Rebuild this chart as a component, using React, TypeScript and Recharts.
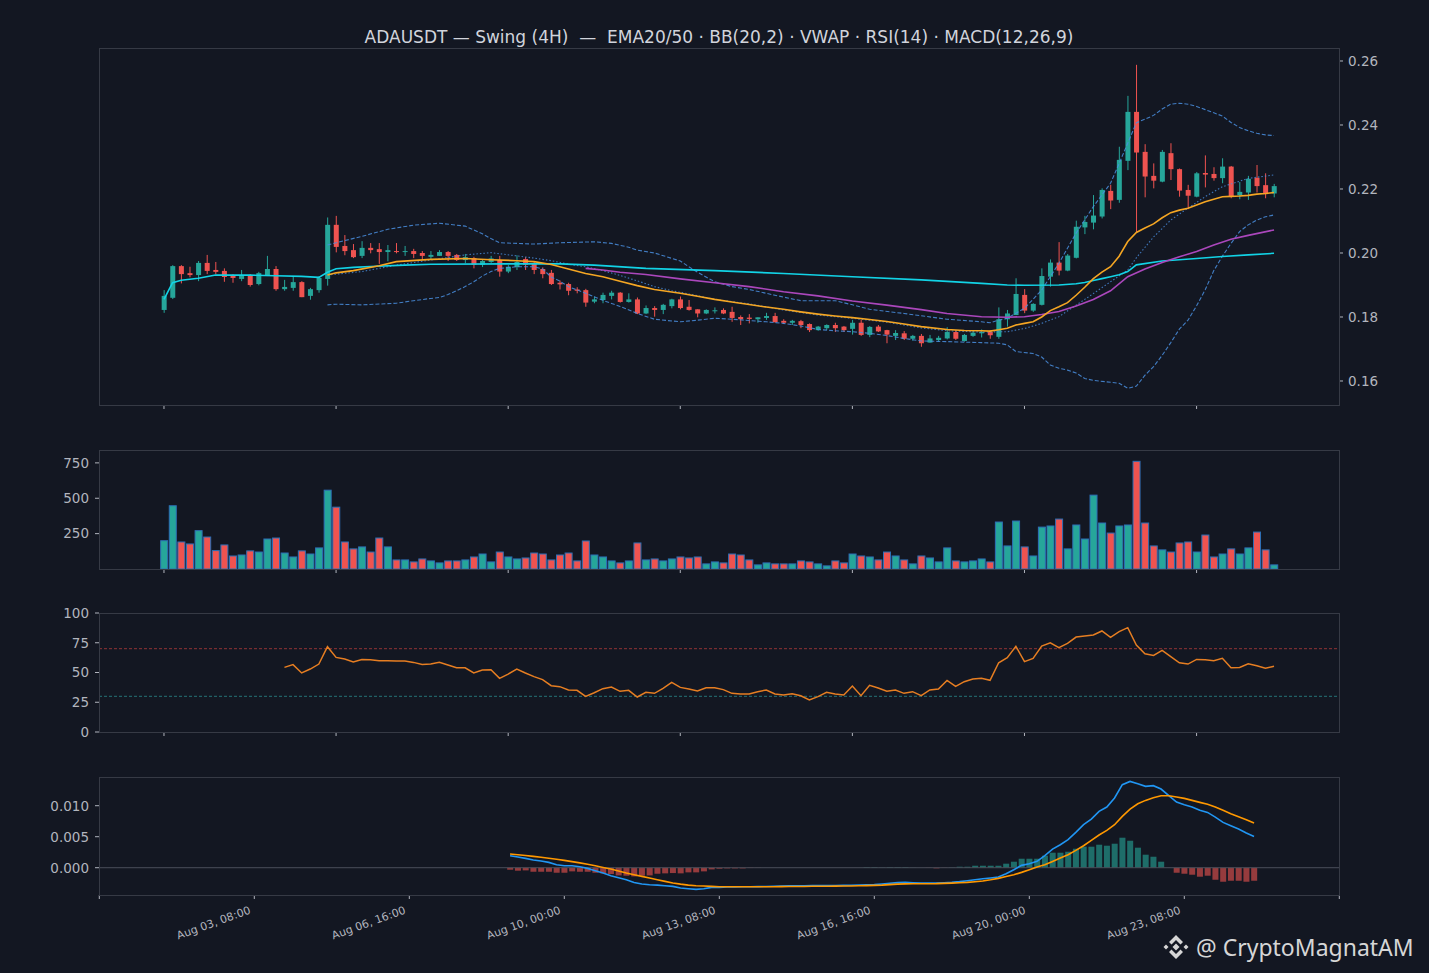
import React from 'react';
import { ComposedChart, Bar, Line, XAxis, YAxis, ReferenceLine } from 'recharts';

// ---------- DATA ----------
const opens = [
  0.1822, 0.1860, 0.1959, 0.1937, 0.1931, 0.1969, 0.1947, 0.1944, 0.1931, 0.1919,
  0.1931, 0.1903, 0.1931, 0.1950, 0.1887, 0.1891, 0.1909, 0.1866, 0.1884, 0.1919,
  0.2088, 0.2022, 0.2009, 0.1991, 0.2016, 0.2012, 0.2003, 0.2006, 0.2003, 0.2006,
  0.2000, 0.1988, 0.1991, 0.2003, 0.1994, 0.1978, 0.1984, 0.1963, 0.1972, 0.1978,
  0.1942, 0.1956, 0.1981, 0.1966, 0.1950, 0.1938, 0.1907, 0.1903, 0.1886, 0.1884,
  0.1848, 0.1853, 0.1866, 0.1876, 0.1847, 0.1855, 0.1811, 0.1828, 0.1822, 0.1834,
  0.1855, 0.1832, 0.1824, 0.1811, 0.1819, 0.1822, 0.1816, 0.1800, 0.1798, 0.1793,
  0.1797, 0.1803, 0.1788, 0.1782, 0.1787, 0.1778, 0.1759, 0.1765, 0.1775, 0.1770,
  0.1763, 0.1782, 0.1744, 0.1770, 0.1759, 0.1741, 0.1749, 0.1732, 0.1741, 0.1720,
  0.1728, 0.1733, 0.1753, 0.1725, 0.1741, 0.1749, 0.1753, 0.1738, 0.1793, 0.1806,
  0.1869, 0.1820, 0.1838, 0.1926, 0.1970, 0.1945, 0.1985, 0.2080, 0.2095, 0.2114,
  0.2194, 0.2166, 0.2288, 0.2441, 0.2316, 0.2241, 0.2223, 0.2312, 0.2262, 0.2197,
  0.2176, 0.2250, 0.2247, 0.2234, 0.2270, 0.2180, 0.2189, 0.2235, 0.2212, 0.2186,
];
const highs = [
  0.1884, 0.1962, 0.1962, 0.1957, 0.1975, 0.1994, 0.1972, 0.1952, 0.1934, 0.1947,
  0.1934, 0.1941, 0.1991, 0.1959, 0.1916, 0.1926, 0.1912, 0.1891, 0.1928, 0.2111,
  0.2116, 0.2056, 0.2028, 0.2037, 0.2031, 0.2031, 0.2025, 0.2031, 0.2022, 0.2013,
  0.2006, 0.2006, 0.2009, 0.2006, 0.1997, 0.1997, 0.1988, 0.1981, 0.1991, 0.1991,
  0.1962, 0.1993, 0.1987, 0.1972, 0.1955, 0.1947, 0.1914, 0.1907, 0.1893, 0.1888,
  0.1864, 0.1876, 0.1882, 0.1878, 0.1874, 0.1861, 0.1836, 0.1834, 0.1841, 0.1857,
  0.1864, 0.1853, 0.1824, 0.1824, 0.1830, 0.1827, 0.1832, 0.1805, 0.1809, 0.1799,
  0.1813, 0.1813, 0.1793, 0.1791, 0.1791, 0.1780, 0.1772, 0.1777, 0.1782, 0.1772,
  0.1791, 0.1791, 0.1772, 0.1775, 0.1760, 0.1759, 0.1756, 0.1744, 0.1747, 0.1744,
  0.1741, 0.1768, 0.1759, 0.1747, 0.1759, 0.1761, 0.1759, 0.1830, 0.1822, 0.1921,
  0.1887, 0.1843, 0.1952, 0.1980, 0.2034, 0.1997, 0.2101, 0.2116, 0.2181, 0.2202,
  0.2213, 0.2332, 0.2491, 0.2588, 0.2340, 0.2280, 0.2322, 0.2343, 0.2264, 0.2213,
  0.2253, 0.2305, 0.2268, 0.2296, 0.2272, 0.2222, 0.2241, 0.2275, 0.2249, 0.2216,
];
const lows = [
  0.1813, 0.1856, 0.1905, 0.1924, 0.1912, 0.1934, 0.1934, 0.1910, 0.1907, 0.1912,
  0.1895, 0.1899, 0.1928, 0.1882, 0.1882, 0.1882, 0.1862, 0.1854, 0.1876, 0.1898,
  0.2002, 0.1993, 0.1984, 0.1984, 0.1999, 0.1966, 0.1974, 0.1999, 0.1991, 0.1984,
  0.1981, 0.1981, 0.1991, 0.1975, 0.1975, 0.1968, 0.1952, 0.1956, 0.1969, 0.1926,
  0.1937, 0.1947, 0.1947, 0.1934, 0.1921, 0.1900, 0.1886, 0.1868, 0.1874, 0.1832,
  0.1843, 0.1843, 0.1855, 0.1845, 0.1845, 0.1809, 0.1809, 0.1801, 0.1809, 0.1827,
  0.1824, 0.1820, 0.1799, 0.1809, 0.1811, 0.1809, 0.1785, 0.1775, 0.1780, 0.1782,
  0.1791, 0.1782, 0.1778, 0.1775, 0.1765, 0.1753, 0.1757, 0.1759, 0.1753, 0.1753,
  0.1745, 0.1741, 0.1737, 0.1753, 0.1718, 0.1728, 0.1728, 0.1726, 0.1707, 0.1720,
  0.1723, 0.1730, 0.1728, 0.1723, 0.1738, 0.1736, 0.1732, 0.1732, 0.1770, 0.1806,
  0.1812, 0.1816, 0.1836, 0.1895, 0.1930, 0.1943, 0.1983, 0.2059, 0.2074, 0.2108,
  0.2137, 0.2157, 0.2259, 0.2064, 0.2174, 0.2202, 0.2221, 0.2228, 0.2176, 0.2137,
  0.2174, 0.2205, 0.2226, 0.2218, 0.2171, 0.2168, 0.2166, 0.2189, 0.2171, 0.2174,
];
const closes = [
  0.1866, 0.1959, 0.1934, 0.1931, 0.1969, 0.1944, 0.1941, 0.1925, 0.1922, 0.1928,
  0.1900, 0.1937, 0.1950, 0.1887, 0.1894, 0.1909, 0.1862, 0.1887, 0.1922, 0.2088,
  0.2019, 0.2006, 0.1987, 0.2016, 0.2009, 0.2003, 0.2009, 0.2003, 0.2006, 0.1997,
  0.1991, 0.1994, 0.2003, 0.1991, 0.1978, 0.1987, 0.1963, 0.1975, 0.1983, 0.1942,
  0.1957, 0.1972, 0.1963, 0.1947, 0.1934, 0.1903, 0.1902, 0.1882, 0.1882, 0.1845,
  0.1855, 0.1869, 0.1876, 0.1847, 0.1855, 0.1811, 0.1828, 0.1822, 0.1838, 0.1855,
  0.1828, 0.1822, 0.1811, 0.1822, 0.1821, 0.1811, 0.1797, 0.1793, 0.1794, 0.1799,
  0.1803, 0.1784, 0.1782, 0.1788, 0.1775, 0.1759, 0.1770, 0.1775, 0.1765, 0.1759,
  0.1782, 0.1744, 0.1769, 0.1755, 0.1745, 0.1750, 0.1732, 0.1741, 0.1718, 0.1733,
  0.1735, 0.1753, 0.1732, 0.1744, 0.1751, 0.1753, 0.1743, 0.1793, 0.1811, 0.1872,
  0.1820, 0.1841, 0.1928, 0.1970, 0.1945, 0.1992, 0.2082, 0.2097, 0.2117, 0.2197,
  0.2164, 0.2291, 0.2441, 0.2314, 0.2239, 0.2226, 0.2316, 0.2262, 0.2195, 0.2179,
  0.2249, 0.2245, 0.2234, 0.2270, 0.2178, 0.2191, 0.2232, 0.2209, 0.2184, 0.2209,
];
const volumes = [
  200, 447, 191, 177, 271, 226, 130, 170, 92, 99,
  128, 120, 212, 219, 113, 85, 128, 106, 149, 557,
  437, 191, 142, 156, 120, 219, 156, 64, 64, 50,
  71, 57, 43, 57, 57, 64, 85, 106, 50, 120,
  85, 71, 78, 113, 106, 64, 99, 113, 57, 198,
  99, 85, 57, 43, 57, 184, 64, 71, 57, 71,
  85, 78, 85, 36, 50, 43, 106, 99, 64, 29,
  43, 36, 36, 36, 57, 50, 36, 22, 57, 43,
  106, 92, 85, 64, 120, 92, 64, 36, 92, 78,
  50, 149, 57, 50, 57, 71, 50, 332, 163, 339,
  156, 92, 296, 304, 353, 142, 311, 212, 522, 325,
  254, 304, 311, 761, 325, 163, 135, 120, 184, 191,
  120, 240, 85, 106, 142, 106, 149, 261, 135, 29,
];
// indicator readings: [candle index, value]
const ema20Pts: [number, number][] = [
  [19, 0.1931], [20, 0.1938], [22, 0.1945], [25, 0.1960], [27, 0.1973], [31, 0.1980], [35, 0.1983],
  [38, 0.1979], [41, 0.1976], [43, 0.1973], [45, 0.1964], [47, 0.1950], [49, 0.1936], [51, 0.1926],
  [53, 0.1912], [55, 0.1898], [57, 0.1886], [60, 0.1874], [62, 0.1865], [64, 0.1855], [66, 0.1847],
  [68, 0.1839], [70, 0.1831], [72, 0.1824], [74, 0.1816], [76, 0.1809], [78, 0.1803], [80, 0.1798],
  [82, 0.1792], [84, 0.1786], [86, 0.1778], [88, 0.1770], [91, 0.1761], [93, 0.1758], [95, 0.1757],
  [96, 0.1756], [97, 0.1760], [98, 0.1765], [99, 0.1775], [100, 0.1780], [101, 0.1785], [102, 0.1800],
  [103, 0.1820], [104, 0.1832], [105, 0.1845], [106, 0.1868], [107, 0.1893], [108, 0.1920], [109, 0.1940],
  [110, 0.1957], [111, 0.1990], [112, 0.2036], [113, 0.2064], [114, 0.2078], [115, 0.2091], [116, 0.2110],
  [117, 0.2126], [118, 0.2134], [119, 0.2140], [120, 0.2150], [121, 0.2160], [122, 0.2168], [123, 0.2176],
  [124, 0.2177], [125, 0.2178], [126, 0.2180], [127, 0.2184], [128, 0.2186], [129, 0.2189],
];
const ema50Pts: [number, number][] = [
  [49, 0.1952], [51, 0.1947], [53, 0.1940], [56, 0.1933], [60, 0.1919], [64, 0.1907], [68, 0.1895],
  [72, 0.1879], [76, 0.1866], [80, 0.1850], [84, 0.1837], [88, 0.1823], [91, 0.1811], [95, 0.1801],
  [98, 0.1799], [100, 0.1801], [102, 0.1808], [104, 0.1817], [106, 0.1834], [108, 0.1855], [110, 0.1882],
  [112, 0.1926], [114, 0.1950], [116, 0.1970], [118, 0.1988], [120, 0.2005], [122, 0.2025], [124, 0.2043],
  [126, 0.2055], [129, 0.2072],
];
const vwapPts: [number, number][] = [
  [0, 0.1855], [1, 0.1907], [2, 0.1915], [4, 0.1921], [6, 0.1931], [10, 0.1931], [13, 0.1929],
  [16, 0.1927], [18, 0.1924], [19, 0.1940], [20, 0.1951], [22, 0.1955], [24, 0.1958], [28, 0.1962],
  [31, 0.1965], [40, 0.1966], [46, 0.1966], [50, 0.1962], [56, 0.1952], [64, 0.1945], [72, 0.1936],
  [80, 0.1926], [88, 0.1916], [95, 0.1905], [98, 0.1900], [100, 0.1899], [104, 0.1900], [106, 0.1904],
  [107, 0.1908], [108, 0.1914], [109, 0.1920], [110, 0.1926], [111, 0.1932], [112, 0.1942], [113, 0.1963],
  [116, 0.1975], [120, 0.1983], [123, 0.1989], [126, 0.1994], [129, 0.1999],
];
const bbUpperPts: [number, number][] = [
  [19, 0.2025], [20, 0.2032], [23, 0.2052], [26, 0.2074], [29, 0.2087], [32, 0.2093], [35, 0.2084],
  [36, 0.2072], [37, 0.2060], [38, 0.2045], [39, 0.2032], [43, 0.2028], [46, 0.2032], [50, 0.2035],
  [52, 0.2030], [54, 0.2018], [55, 0.2009], [57, 0.2000], [60, 0.1975], [61, 0.1957], [62, 0.1940],
  [64, 0.1910], [66, 0.1895], [68, 0.1886], [71, 0.1868], [74, 0.1851], [78, 0.1851], [80, 0.1838],
  [82, 0.1824], [86, 0.1811], [91, 0.1793], [95, 0.1785], [96, 0.1782], [97, 0.1790], [98, 0.1796],
  [100, 0.1827], [102, 0.1884], [104, 0.1968], [106, 0.2062], [108, 0.2145], [110, 0.2218], [111, 0.2280],
  [112, 0.2343], [113, 0.2407], [114, 0.2418], [115, 0.2430], [116, 0.2450], [117, 0.2465], [118, 0.2468],
  [119, 0.2465], [120, 0.2458], [121, 0.2448], [122, 0.2438], [123, 0.2428], [124, 0.2408], [125, 0.2392],
  [126, 0.2382], [127, 0.2374], [128, 0.2369], [129, 0.2367],
];
const bbLowerPts: [number, number][] = [
  [19, 0.1838], [20, 0.1840], [23, 0.1838], [27, 0.1843], [29, 0.1851], [31, 0.1858], [32, 0.1861],
  [33, 0.1870], [34, 0.1882], [35, 0.1895], [36, 0.1910], [37, 0.1928], [38, 0.1942], [39, 0.1952],
  [41, 0.1957], [43, 0.1957], [44, 0.1950], [45, 0.1925], [46, 0.1912], [47, 0.1895], [49, 0.1874],
  [51, 0.1852], [53, 0.1833], [55, 0.1811], [57, 0.1793], [60, 0.1785], [62, 0.1790], [64, 0.1796],
  [66, 0.1793], [68, 0.1789], [70, 0.1785], [72, 0.1780], [74, 0.1772], [76, 0.1761], [78, 0.1757],
  [80, 0.1754], [82, 0.1749], [84, 0.1742], [86, 0.1733], [88, 0.1725], [91, 0.1723], [95, 0.1720],
  [97, 0.1718], [98, 0.1713], [99, 0.1692], [101, 0.1686], [102, 0.1675], [103, 0.1650], [104, 0.1640],
  [105, 0.1634], [106, 0.1625], [107, 0.1608], [108, 0.1602], [110, 0.1596], [111, 0.1593], [112, 0.1577],
  [113, 0.1584], [114, 0.1618], [115, 0.1645], [116, 0.1680], [117, 0.1720], [118, 0.1762], [119, 0.1790],
  [120, 0.1835], [121, 0.1885], [122, 0.1945], [123, 0.1990], [124, 0.2030], [125, 0.2067], [126, 0.2088],
  [127, 0.2103], [128, 0.2113], [129, 0.2119],
];
const bbMidPts: [number, number][] = [
  [19, 0.1931], [23, 0.1942], [27, 0.1962], [31, 0.1978], [35, 0.1994], [38, 0.2001], [41, 0.1991],
  [43, 0.1984], [45, 0.1976], [47, 0.1965], [49, 0.1957], [51, 0.1945], [53, 0.1930], [55, 0.1913],
  [57, 0.1895], [59, 0.1882], [61, 0.1872], [64, 0.1855], [68, 0.1841], [72, 0.1822], [76, 0.1806],
  [80, 0.1796], [84, 0.1784], [88, 0.1766], [91, 0.1757], [95, 0.1753], [98, 0.1754], [100, 0.1764],
  [102, 0.1780], [104, 0.1801], [107, 0.1855], [110, 0.1910], [112, 0.1947], [113, 0.1985], [115, 0.2050],
  [117, 0.2103], [119, 0.2140], [121, 0.2176], [123, 0.2207], [126, 0.2233], [129, 0.2244],
];
const rsiStart = 14;
const rsiValues = [
  54.3, 56.6, 49.6, 52.9, 57.1, 71.7, 62.7, 61.3, 58.8, 61.0,
  60.8, 59.9, 59.9, 59.6, 59.6, 58.5, 56.8, 57.1, 58.5, 56.3,
  54.0, 54.0, 49.6, 52.1, 52.4, 45.1, 48.7, 52.9, 49.6, 46.5,
  44.0, 38.9, 38.1, 35.3, 35.0, 29.9, 33.0, 36.4, 37.8, 34.2,
  35.0, 29.4, 33.3, 32.5, 36.7, 41.7, 37.5, 36.1, 34.4, 37.2,
  37.2, 35.6, 32.5, 31.9, 31.9, 33.9, 35.3, 31.9, 31.2, 32.2,
  30.5, 26.9, 29.7, 33.3, 31.9, 31.1, 38.6, 30.5, 39.2, 37.0,
  34.2, 35.3, 32.5, 33.9, 30.5, 35.3, 36.1, 43.4, 38.4, 42.3,
  44.5, 45.1, 43.4, 58.2, 62.4, 72.0, 59.1, 61.9, 72.2, 75.0,
  70.8, 74.5, 79.8, 80.6, 81.5, 84.9, 79.5, 84.3, 87.7, 73.1,
  65.8, 64.4, 68.6, 63.3, 58.2, 57.1, 61.0, 60.8, 59.9, 61.9,
  54.0, 54.3, 57.4, 55.7, 53.5, 55.2,
];
const macdStart = 33;
const macdValues = [
  0.00194, 0.00172, 0.00151, 0.00124, 0.00108, 0.00086, 0.00048, 0.00032, 0.00032, 0.00016,
  -0.00011, -0.00048, -0.00086, -0.00129, -0.00161, -0.00194, -0.00237, -0.00263, -0.00274, -0.00280,
  -0.00290, -0.00301, -0.00328, -0.00339, -0.00349, -0.00339, -0.00317, -0.00317, -0.00312, -0.00312,
  -0.00306, -0.00306, -0.00305, -0.00303, -0.00300, -0.00297, -0.00293, -0.00290, -0.00290, -0.00289,
  -0.00288, -0.00287, -0.00286, -0.00285, -0.00283, -0.00280, -0.00276, -0.00272, -0.00262, -0.00250,
  -0.00240, -0.00237, -0.00242, -0.00247, -0.00248, -0.00247, -0.00243, -0.00237, -0.00225, -0.00210,
  -0.00193, -0.00177, -0.00165, -0.00151, -0.00097, -0.00032, 0.00038, 0.00065, 0.00102, 0.00194,
  0.00301, 0.00371, 0.00452, 0.00570, 0.00694, 0.00785, 0.00909, 0.00978, 0.01124, 0.01339,
  0.01392, 0.01355, 0.01312, 0.01323, 0.01269, 0.01161, 0.01059, 0.01016, 0.00978, 0.00925,
  0.00892, 0.00817, 0.00731, 0.00677, 0.00624, 0.00559, 0.00505,
];
const signalValues = [
  0.00220, 0.00210, 0.00197, 0.00183, 0.00168, 0.00152, 0.00136, 0.00118, 0.00098, 0.00078,
  0.00055, 0.00032, 0.00005, -0.00022, -0.00054, -0.00086, -0.00113, -0.00140, -0.00167, -0.00194,
  -0.00220, -0.00247, -0.00265, -0.00280, -0.00290, -0.00296, -0.00301, -0.00306, -0.00307, -0.00308,
  -0.00308, -0.00307, -0.00307, -0.00306, -0.00306, -0.00305, -0.00304, -0.00303, -0.00302, -0.00300,
  -0.00299, -0.00298, -0.00297, -0.00296, -0.00294, -0.00292, -0.00289, -0.00285, -0.00280, -0.00272,
  -0.00265, -0.00260, -0.00258, -0.00258, -0.00258, -0.00257, -0.00253, -0.00248, -0.00243, -0.00237,
  -0.00227, -0.00215, -0.00195, -0.00172, -0.00143, -0.00113, -0.00075, -0.00032, 0.00011, 0.00048,
  0.00102, 0.00156, 0.00210, 0.00280, 0.00355, 0.00441, 0.00527, 0.00602, 0.00694, 0.00828,
  0.00946, 0.01032, 0.01086, 0.01129, 0.01161, 0.01161, 0.01140, 0.01118, 0.01086, 0.01054,
  0.01022, 0.00978, 0.00925, 0.00871, 0.00823, 0.00774, 0.00720,
];
const histValues = [
  -0.00032, -0.00048, -0.00043, -0.00065, -0.00065, -0.00065, -0.00081, -0.00081, -0.00059, -0.00065,
  -0.00065, -0.00081, -0.00091, -0.00102, -0.00124, -0.00129, -0.00140, -0.00129, -0.00124, -0.00097,
  -0.00091, -0.00086, -0.00091, -0.00075, -0.00075, -0.00059, -0.00027, -0.00016, -0.00011, -0.00011,
  -0.00011, -0.00005, -0.00003, 0, 0, 0, 0, 0, 0, 0,
  0, 0, 0, 0, 0, 0, 0.0001, 0.0001, 0.00005, 0.0001,
  0.0001, 0.0001, 0.00003, 0, -0.00003, -0.0001, -0.00003, 0.00005, 0.00016, 0.00016,
  0.00032, 0.00032, 0.00032, 0.00032, 0.00065, 0.00097, 0.00145, 0.00145, 0.00145, 0.00194,
  0.00242, 0.00242, 0.00258, 0.00306, 0.00339, 0.00339, 0.00371, 0.00355, 0.00387, 0.00484,
  0.00435, 0.00323, 0.00210, 0.00177, 0.00097, 0, -0.00081, -0.00097, -0.00113, -0.00145,
  -0.00129, -0.00194, -0.00226, -0.00210, -0.00210, -0.00226, -0.00210,
];
const priceTicks = [0.16, 0.18, 0.2, 0.22, 0.24, 0.26];
const volumeTicks = [250, 500, 750];
const rsiTicks = [0, 25, 50, 75, 100];
const macdTicks = [0, 0.005, 0.01];
const indexTicks = [0, 20, 40, 60, 80, 100, 120];
const dateTicks = [-20, 0, 20, 40, 60, 80, 100, 120, 140];
const dateLabels: Record<number, string> = {
  0: 'Aug 03, 08:00', 20: 'Aug 06, 16:00', 40: 'Aug 10, 00:00', 60: 'Aug 13, 08:00',
  80: 'Aug 16, 16:00', 100: 'Aug 20, 00:00', 120: 'Aug 23, 08:00',
};
const TITLE = 'ADAUSDT — Swing (4H)  —  EMA20/50 · BB(20,2) · VWAP · RSI(14) · MACD(12,26,9)';

// ---------- STYLE ----------
const BG = '#131722';
const FRAME = '#363a45';
const TXT = '#b2b5be';
const UP = '#26a69a';
const DOWN = '#ef5350';
const FONT = '"DejaVu Sans", sans-serif';
const IDX_DOMAIN: [number, number] = [-7.55, 136.55];
const DATE_DOMAIN: [number, number] = [-20.04, 139.96];

const toMap = (pts: [number, number][]) => new Map(pts.map(([k, v]) => [k, v]));
const m20 = toMap(ema20Pts), m50 = toMap(ema50Pts), mv = toMap(vwapPts);
const mu = toMap(bbUpperPts), ml = toMap(bbLowerPts), mm = toMap(bbMidPts);

const priceData = opens.map((o, i) => ({
  i, o, h: highs[i], l: lows[i], c: closes[i], hl: [lows[i], highs[i]],
  ema20: m20.get(i) ?? null, ema50: m50.get(i) ?? null, vwap: mv.get(i) ?? null,
  bbu: mu.get(i) ?? null, bbl: ml.get(i) ?? null, bbm: mm.get(i) ?? null,
}));
const volData = volumes.map((v, i) => ({ i, v, up: closes[i] >= opens[i] }));
const rsiData = rsiValues.map((r, k) => ({ i: k + rsiStart, r }));
const macdData = macdValues.map((m, k) => ({ i: k + macdStart, m, s: signalValues[k], h: histValues[k] }));

const Candle = (props: any) => {
  const { x, y, width, height, payload } = props;
  if (x == null || y == null || !payload) return null;
  const { o, h, l, c } = payload;
  const top = Math.min(y, y + height);
  const bot = Math.max(y, y + height);
  const k = h - l > 0 ? (bot - top) / (h - l) : 0;
  const yO = top + (h - o) * k;
  const yC = top + (h - c) * k;
  const col = c >= o ? UP : DOWN;
  const cx = x + width / 2;
  const bTop = Math.min(yO, yC);
  const bH = Math.max(Math.abs(yO - yC), 1);
  return (
    <g>
      <line x1={cx} x2={cx} y1={top} y2={bot} stroke={col} strokeWidth={1} />
      <rect x={x} y={bTop} width={width} height={bH} fill={col} />
    </g>
  );
};

const VolBar = (props: any) => {
  const { x, y, width, height, payload } = props;
  if (x == null || !payload) return null;
  return (
    <rect x={x} y={Math.min(y, y + height)} width={width} height={Math.abs(height)}
      fill={payload.up ? UP : DOWN} stroke="#2d6fb6" strokeWidth={1} />
  );
};

const HistBar = (props: any) => {
  const { x, y, width, height, payload } = props;
  if (x == null || !payload || !height) return null;
  return (
    <rect x={x} y={Math.min(y, y + height)} width={width} height={Math.abs(height)}
      fill={payload.h >= 0 ? UP : DOWN} fillOpacity={0.6} />
  );
};

const DateTick = (props: any) => {
  const { x, y, payload } = props;
  const label = dateLabels[payload.value];
  if (!label) return null;
  return (
    <g transform={`translate(${x - 3},${y + 12})`}>
      <text x={0} y={0} textAnchor="end" transform="rotate(-20)" fill={TXT} fontSize={11} fontFamily={FONT}>
        {label}
      </text>
    </g>
  );
};

const yTick = { fill: TXT, fontSize: 13.5, fontFamily: FONT };
const Frame = ({ left, top, width, height }: any) => (
  <div style={{ position: 'absolute', left, top, width, height, border: `1px solid ${FRAME}`, boxSizing: 'border-box', pointerEvents: 'none' }} />
);

export default function App() {
  return (
    <div style={{ position: 'absolute', left: 0, top: 0, width: 1429, height: 973, background: BG, overflow: 'hidden', fontFamily: FONT }}>
      <div style={{ position: 'absolute', left: 99, top: 28, width: 1240, textAlign: 'center', color: '#d1d4dc', fontSize: 17, lineHeight: '19px', whiteSpace: 'pre' }}>
        {TITLE}
      </div>

      {/* PRICE */}
      <div style={{ position: 'absolute', left: 0, top: 38 }}>
        <ComposedChart width={1429} height={382} data={priceData} margin={{ top: 10, right: 30, left: 99, bottom: 0 }}>
          <XAxis dataKey="i" type="number" domain={IDX_DOMAIN} allowDataOverflow ticks={indexTicks} height={15}
            axisLine={false} tickLine={{ stroke: TXT }} tickSize={4} tickFormatter={() => ''} />
          <YAxis yAxisId="p" orientation="right" width={60} domain={[0.1525, 0.26406]} allowDataOverflow ticks={priceTicks}
            axisLine={false} tickLine={{ stroke: TXT }} tickSize={4} tickMargin={5} tick={yTick} tickFormatter={(v: number) => v.toFixed(2)} />
          <Bar yAxisId="p" dataKey="hl" barSize={5} shape={<Candle />} isAnimationActive={false} />
          <Line yAxisId="p" dataKey="bbu" stroke="#4a8fe0" strokeOpacity={0.85} strokeWidth={1.1} strokeDasharray="4 2" dot={false} connectNulls isAnimationActive={false} />
          <Line yAxisId="p" dataKey="bbl" stroke="#4a8fe0" strokeOpacity={0.85} strokeWidth={1.1} strokeDasharray="4 2" dot={false} connectNulls isAnimationActive={false} />
          <Line yAxisId="p" dataKey="bbm" stroke="#4a8fe0" strokeOpacity={0.8} strokeWidth={1.1} strokeDasharray="1.5 2" dot={false} connectNulls isAnimationActive={false} />
          <Line yAxisId="p" dataKey="vwap" stroke="#12d3e6" strokeWidth={1.6} dot={false} connectNulls isAnimationActive={false} />
          <Line yAxisId="p" dataKey="ema50" stroke="#ab47bc" strokeWidth={1.6} dot={false} connectNulls isAnimationActive={false} />
          <Line yAxisId="p" dataKey="ema20" stroke="#f5a623" strokeWidth={1.6} dot={false} connectNulls isAnimationActive={false} />
        </ComposedChart>
      </div>
      <Frame left={99} top={48} width={1241} height={358} />

      {/* VOLUME */}
      <div style={{ position: 'absolute', left: 0, top: 440 }}>
        <ComposedChart width={1429} height={144} data={volData} margin={{ top: 10, right: 90, left: 39, bottom: 0 }}>
          <XAxis dataKey="i" type="number" domain={IDX_DOMAIN} allowDataOverflow ticks={indexTicks} height={15}
            axisLine={false} tickLine={{ stroke: TXT }} tickSize={4} tickFormatter={() => ''} />
          <YAxis width={60} domain={[0, 841]} allowDataOverflow ticks={volumeTicks}
            axisLine={false} tickLine={{ stroke: TXT }} tickSize={4} tickMargin={6} tick={yTick} />
          <Bar dataKey="v" barSize={7} shape={<VolBar />} isAnimationActive={false} />
        </ComposedChart>
      </div>
      <Frame left={99} top={450} width={1241} height={120} />

      {/* RSI */}
      <div style={{ position: 'absolute', left: 0, top: 603 }}>
        <ComposedChart width={1429} height={144} data={rsiData} margin={{ top: 10, right: 90, left: 39, bottom: 0 }}>
          <XAxis dataKey="i" type="number" domain={IDX_DOMAIN} allowDataOverflow ticks={indexTicks} height={15}
            axisLine={false} tickLine={{ stroke: TXT }} tickSize={4} tickFormatter={() => ''} />
          <YAxis width={60} domain={[0, 100]} allowDataOverflow ticks={rsiTicks}
            axisLine={false} tickLine={{ stroke: TXT }} tickSize={4} tickMargin={6} tick={yTick} />
          <ReferenceLine y={70} stroke="#b03a3a" strokeOpacity={0.8} strokeDasharray="3 2" />
          <ReferenceLine y={30} stroke="#2a8a8c" strokeOpacity={0.8} strokeDasharray="3 2" />
          <Line dataKey="r" stroke="#e67e22" strokeWidth={1.5} dot={false} isAnimationActive={false} />
        </ComposedChart>
      </div>
      <Frame left={99} top={613} width={1241} height={120} />

      {/* MACD */}
      <div style={{ position: 'absolute', left: 0, top: 767 }}>
        <ComposedChart width={1429} height={188} data={macdData} margin={{ top: 10, right: 90, left: 39, bottom: 0 }}>
          <XAxis dataKey="i" type="number" domain={DATE_DOMAIN} allowDataOverflow ticks={dateTicks} height={60}
            axisLine={false} tickLine={{ stroke: TXT }} tickSize={4} tick={<DateTick />} interval={0} />
          <YAxis width={60} domain={[-0.0044, 0.01463]} allowDataOverflow ticks={macdTicks}
            axisLine={false} tickLine={{ stroke: TXT }} tickSize={4} tickMargin={6} tick={yTick} tickFormatter={(v: number) => v.toFixed(3)} />
          <ReferenceLine y={0} stroke="#4b4f5a" strokeWidth={1} />
          <Bar dataKey="h" barSize={6} shape={<HistBar />} isAnimationActive={false} />
          <Line dataKey="m" stroke="#2196f3" strokeWidth={1.6} dot={false} isAnimationActive={false} />
          <Line dataKey="s" stroke="#ff9800" strokeWidth={1.6} dot={false} isAnimationActive={false} />
        </ComposedChart>
      </div>
      <Frame left={99} top={777} width={1241} height={119} />

      {/* watermark */}
      <svg style={{ position: 'absolute', left: 1162, top: 933 }} width={28} height={28} viewBox="0 0 28 28">
        <g fill="#d6d6d6">
          <polygon points="14,2 21,9 18.5,11.5 14,7 9.5,11.5 7,9" />
          <polygon points="14,26 21,19 18.5,16.5 14,21 9.5,16.5 7,19" />
          <polygon points="14,10.5 17.5,14 14,17.5 10.5,14" />
          <polygon points="4,11.5 6.5,14 4,16.5 1.5,14" />
          <polygon points="24,11.5 26.5,14 24,16.5 21.5,14" />
        </g>
      </svg>
      <div style={{ position: 'absolute', left: 1196, top: 935, color: '#d6d6d6', fontFamily: '"Noto Sans", "Open Sans", sans-serif', fontSize: 23, lineHeight: '24px', whiteSpace: 'pre' }}>
        @ CryptoMagnatAM
      </div>
    </div>
  );
}
